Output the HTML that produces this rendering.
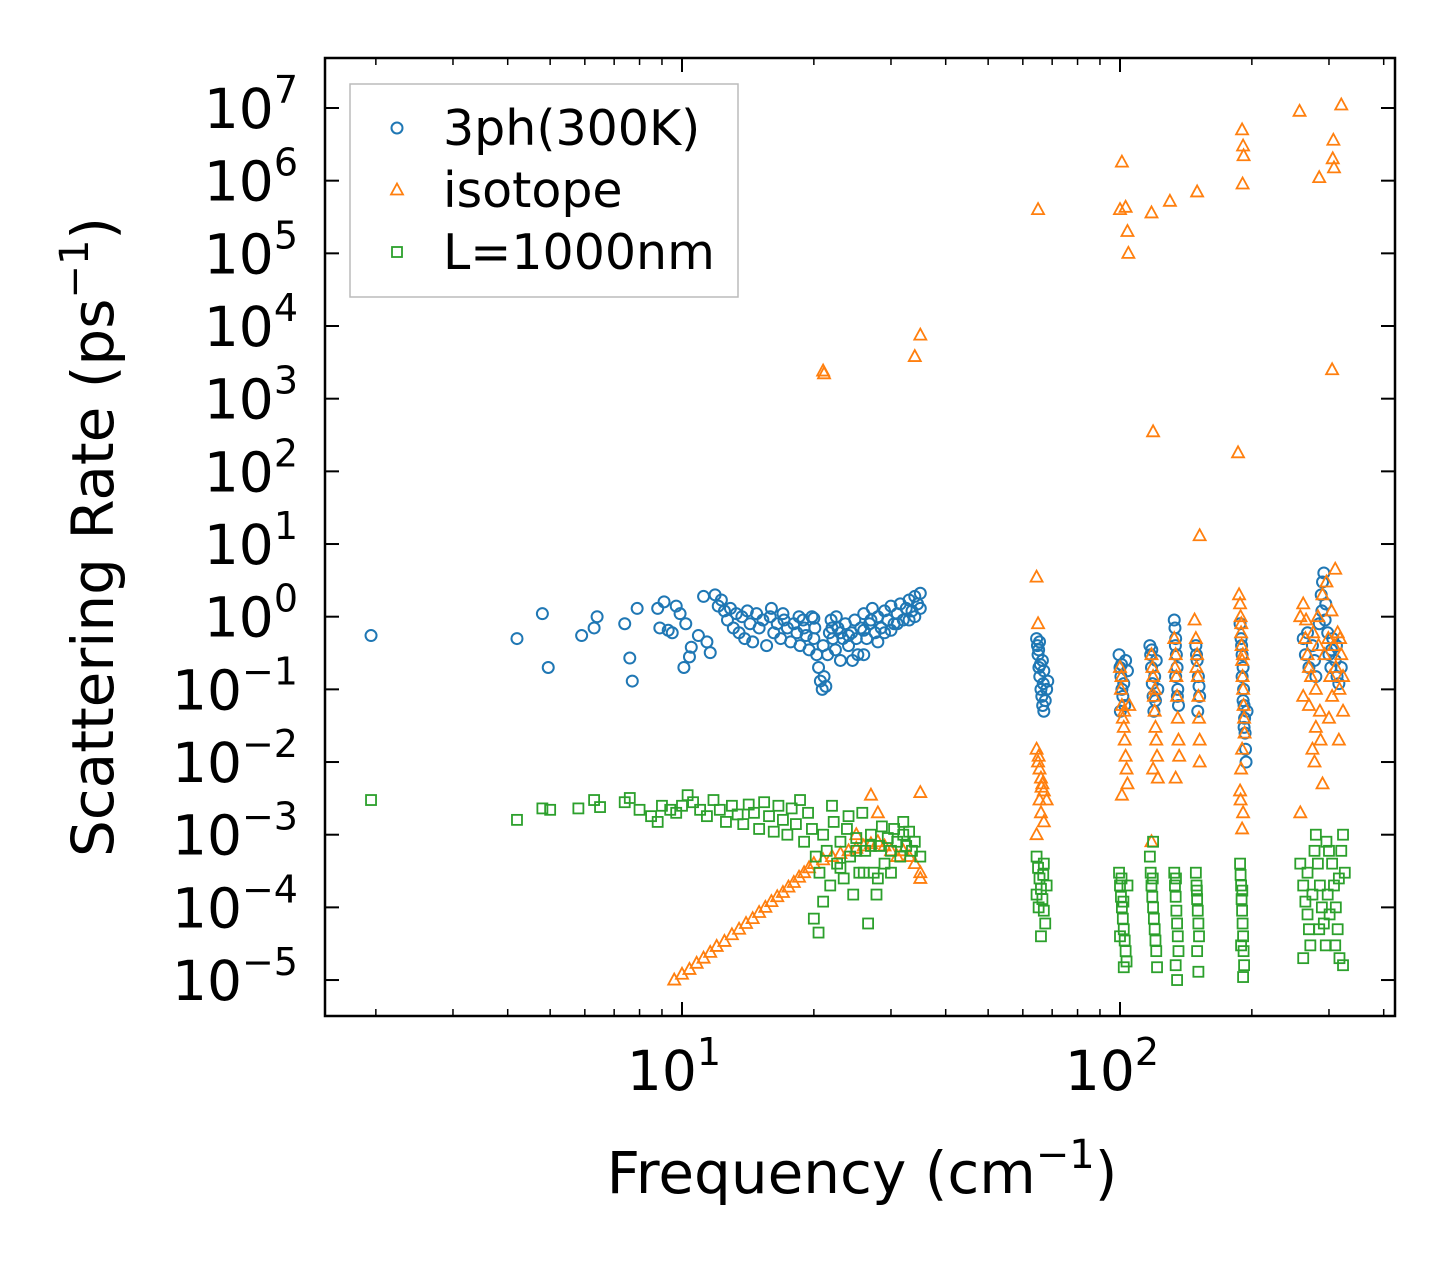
<!DOCTYPE html>
<html><head><meta charset="utf-8"><style>
html,body{margin:0;padding:0;background:#fff;}
svg{display:block;font-family:"DejaVu Sans","Liberation Sans",sans-serif;}
</style></head><body>
<svg id="chart" width="1455" height="1265" viewBox="0 0 1455 1265" xmlns="http://www.w3.org/2000/svg">
<rect x="0" y="0" width="1455" height="1265" fill="#fff"/>
<g id="marks"></g>
<g id="axes"></g>
</svg>
<script>
const bluePoints=[[1.95,.55],[4.2,.5],[4.8,1.1],[4.95,.2],[5.9,.55],[6.3,.7],[6.4,1.0],[7.4,.8],[7.6,.27],[7.7,.13],[7.9,1.3],[8.8,1.3],[8.9,.7],[9.1,1.6],[9.3,.65],[9.5,.6],[9.7,1.4],[9.9,1.1],[10.1,.2],[10.2,.8],[10.4,.28],[10.5,.38],[10.9,.55],[11.2,1.9],[11.4,.45],[11.6,.32],[11.9,2.0],[12.1,1.4],[12.3,1.7],[12.5,1.2],[12.7,.9],[12.9,1.3],[13.1,.7],[13.3,1.1],[13.5,.6],[13.7,1.0],[13.9,.5],[14.1,1.2],[14.3,.8],[14.5,.45],[14.8,1.1],[15,.7],[15.3,.9],[15.6,.4],[15.9,1.0],[16.2,.6],[16.5,.8],[16.8,.5],[17.1,.9],[17.4,.7],[17.7,.45],[18,.8],[18.3,.6],[18.6,.4],[18.9,.9],[19.2,.55],[19.5,.35],[19.8,1.0],[20.1,.7],[20.3,.3],[20.5,.2],[20.7,.13],[20.9,.1],[21.1,.15],[21.3,.11],[21.5,.3],[21.7,.6],[21.9,.9],[22.1,.5],[22.4,.35],[22.7,.7],[23,.25],[23.3,.5],[23.6,.8],[24,.4],[24.4,.6],[24.8,.9],[25.2,.3],[25.6,.7],[26,1.1],[26.4,.5],[26.8,.8],[27.2,1.3],[27.6,.6],[28,1.0],[28.5,.7],[29,1.2],[29.5,.9],[30,1.4],[30.5,.8],[31,1.1],[31.5,1.5],[32,.9],[32.5,1.3],[33,1.7],[33.5,1.2],[34,1.9],[34.5,1.5],[35,2.1],[16,1.3],[17,1.1],[18.5,1.0],[19,.7],[20,.5],[21,.4],[22,.7],[23,.6],[24,.55],[25,.5],[26,.65],[27,.9],[28,.45],[29,.6],[30,.65],[31,.8],[33,.9],[34,1.0],[35,1.3],[22.5,1.0],[20,.95],[24.5,.25],[26,.3],
[64.5,.5],[64.8,.4],[65,.3],[65.3,.2],[65.6,.15],[66,.1],[66.3,.08],[66.6,.06],[67,.05],[67.5,.07],[68,.1],[68.4,.13],[65.5,.45],[66.5,.25],[67,.18],[65.2,.35],[66.8,.12],[65.8,.22],
[99.5,.3],[100,.2],[100.5,.15],[101,.1],[101.5,.08],[102,.12],[103,.25],[100.2,.05],[104,.18],[100.8,.22],[102.5,.06],
[117,.4],[117.5,.3],[118,.2],[118.5,.12],[119,.08],[119.5,.05],[120,.15],[121,.25],[122,.1],[118.2,.35],[120.5,.07],
[133,.9],[133.5,.7],[134,.5],[134.5,.3],[135,.2],[135.5,.1],[136,.06],[134,.15],[133.8,.4],[135.2,.08],
[149,.4],[150,.25],[151,.15],[152,.08],[150.5,.05],[149.5,.3],[151.5,.11],
[188,.8],[189,.5],[190,.3],[191,.2],[191.5,.1],[192,.06],[192.5,.04],[193,.025],[193.5,.015],[194,.01],[190,.15],[195,.05],[189.5,.4],[191,.07],[192,.03],
[262,.5],[265,.3],[270,.2],[275,.4],[280,.15],[285,.8],[288,2],[290,3],[292,4],[295,1.5],[298,.6],[300,.3],[303,.2],[306,.5],[310,.25],[313,.15],[316,.12],[320,.2],[268,.6],[278,.25],[289,1.2],[294,.9],[304,.35],[312,.4]];
const orangePoints=[[21,2400],[21.1,2200],[34,3800],[35,7500],[65,4e5],[100,4e5],[101,1.8e6],[103,4.3e5],[104,2e5],[104.5,1e5],[118,3.6e5],[119,350],[130,5.2e5],[150,7e5],[152,13],[186,180],[190,5e6],[191,3e6],[191.5,2.2e6],[190.5,9e5],[257,9e6],[285,1.1e6],[307,3.6e6],[306,2e6],[308,1.5e6],[305,2500],[320,1.1e7],[310,4.5],
[9.6,1e-5],[10,1.2e-5],[10.4,1.4e-5],[10.8,1.7e-5],[11.2,2e-5],[11.6,2.4e-5],[12,2.9e-5],[12.5,3.4e-5],[13,4.2e-5],[13.5,5e-5],[14,6e-5],[14.5,7e-5],[15,8.5e-5],[15.5,1e-4],[16,1.2e-4],[16.5,1.4e-4],[17,1.6e-4],[17.5,1.9e-4],[18,2.2e-4],[18.5,2.6e-4],[19,3e-4],[19.5,3.5e-4],[20,4e-4],[21,4.5e-4],[22,5e-4],[23,5.5e-4],[24,6e-4],[25,6.5e-4],[26,7e-4],[27,7.5e-4],[28,8e-4],[29,7e-4],[30,6e-4],[31,5e-4],[32,6e-4],[33,5e-4],[34,4e-4],[35,3e-4],[35,2.5e-4],[27,3.5e-3],[35,3.8e-3],[28,2e-3],[25,1e-3],
[64.5,3.5],[65,.8],[64.5,.015],[65,.01],[65.5,.008],[66,.006],[66.5,.005],[67,.004],[65.5,.003],[66,.002],[67,.0015],[64.5,.001],[68,.003],[65.2,.012],[66.2,.0045],
[100,.2],[100.5,.1],[101,.06],[101.5,.04],[102,.03],[102.5,.02],[103,.012],[103.5,.008],[104,.005],[101,.0035],[105,.06],[100.8,.15],[102.2,.05],
[118,.3],[119,.15],[119.5,.08],[120,.05],[120.5,.03],[121,.02],[121.5,.012],[119,.008],[122,.006],[118,8e-4],[118.6,.2],[120.2,.1],
[133,.5],[134,.3],[134.5,.15],[135,.08],[135.5,.04],[136,.02],[136.5,.012],[134,.006],[133.5,.2],
[148,.9],[149,.5],[150,.3],[150.5,.15],[151,.08],[151.5,.04],[152,.02],[152,.01],[149.5,.2],
[187,2],[188,1.5],[188.5,1],[189,.6],[189.5,.4],[190,.25],[190.5,.15],[191,.1],[191.5,.06],[192,.04],[192.5,.025],[190,.015],[189,.008],[188,.004],[191,.002],[190,.0012],[188.5,.003],[189.2,.8],[190.8,.3],
[258,1],[262,1.5],[265,.5],[268,.3],[270,.2],[273,.15],[276,.6],[280,.1],[283,1],[286,.05],[290,2],[293,.3],[296,3],[299,.5],[302,.15],[305,.08],[308,.4],[311,.2],[314,.6],[317,.1],[320,.3],[323,.15],[262,.08],[270,.06],[275,.015],[280,.03],[287,.02],[300,.04],[316,.02],[323,.05],[258,.002],[290,.005],[278,.01],[266,.9],[284,.4],[304,1.2],[318,.5]];
const greenPoints=[[1.95,3e-3],[4.2,1.6e-3],[4.8,2.3e-3],[5,2.2e-3],[5.8,2.3e-3],[6.3,3e-3],[6.5,2.4e-3],[7.4,2.8e-3],[7.6,3.2e-3],[8,2.2e-3],[8.5,1.8e-3],[8.8,1.5e-3],[9,2.5e-3],[9.4,2.2e-3],[9.7,2e-3],[10,2.5e-3],[10.3,3.5e-3],[10.6,2.8e-3],[11,2.2e-3],[11.4,1.8e-3],[11.8,3e-3],[12.2,2.2e-3],[12.6,1.5e-3],[13,2.5e-3],[13.4,1.9e-3],[13.8,1.4e-3],[14.2,2.6e-3],[14.6,2e-3],[15,1.2e-3],[15.4,2.8e-3],[15.8,1.8e-3],[16.2,1.1e-3],[16.6,2.5e-3],[17,1.6e-3],[17.4,1e-3],[17.8,2.3e-3],[18.2,1.4e-3],[18.6,3e-3],[19,8e-4],[19.4,2e-3],[19.8,1.2e-3],[20,7e-5],[20.5,4.5e-5],[20.2,5e-4],[20.6,3e-4],[21,1e-3],[21.4,6e-4],[21.8,2e-4],[22.2,1.5e-3],[22.6,4e-4],[23,8e-4],[23.4,2.5e-4],[23.8,1.2e-3],[24.2,5e-4],[24.6,1.5e-4],[25,9e-4],[25.4,3e-4],[25.8,2e-3],[26.2,6e-4],[26.6,6e-5],[27,1e-3],[27.4,3e-4],[27.8,1.5e-4],[28.2,7e-4],[28.6,1.3e-3],[29,4e-4],[29.5,9e-4],[30,6e-4],[30.5,1.2e-3],[31,8e-4],[31.5,5e-4],[32,1e-3],[32.5,7e-4],[33,1.1e-3],[33.5,6e-4],[34,8e-4],[35,5e-4],[21,1.2e-4],[22,2.5e-3],[23,3.5e-4],[24,1.8e-3],[26,3e-4],[28,2.5e-4],[30,3e-4],[32,1.5e-3],[25,6e-4],[27,7e-4],
[64.5,5e-4],[65,3.5e-4],[65.5,2.5e-4],[66,1.8e-4],[66.5,1.3e-4],[67,9e-5],[67.5,6e-5],[66,4e-5],[68,2e-4],[64.5,1.5e-4],[67,4e-4],[65.2,1e-4],[66.8,2.8e-4],
[99.5,3e-4],[100,2e-4],[100.5,1.4e-4],[101,1e-4],[101.5,7e-5],[102,5e-5],[102.5,3.5e-5],[103,2.5e-5],[103.5,1.8e-5],[102,1.5e-5],[104,2e-4],[100,4e-5],[100.8,2.5e-4],[101.8,1.2e-4],
[117,5e-4],[117.5,3e-4],[118,2e-4],[118.5,1.4e-4],[119,1e-4],[119.5,7e-5],[120,5e-5],[120.5,3.5e-5],[121,2.5e-5],[121.5,1.5e-5],[119,8e-4],[118.8,2.5e-4],
[133,3e-4],[133.5,2e-4],[134,1.4e-4],[134.5,9e-5],[135,6e-5],[135.5,4e-5],[136,2.5e-5],[134,1.6e-5],[135,1e-5],[134.2,2.5e-4],
[149,3e-4],[149.5,2e-4],[150,1.3e-4],[150.5,9e-5],[151,6e-5],[151.5,4e-5],[150,2.5e-5],[151,1.3e-5],[149.8,1.7e-4],
[188,4e-4],[188.5,2.8e-4],[189,2e-4],[189.5,1.3e-4],[190,9e-5],[190.5,6e-5],[191,4e-5],[191.5,2.5e-5],[192,1.6e-5],[191,1.1e-5],[189,3e-5],[190.2,1.7e-4],
[258,4e-4],[262,2e-4],[265,1.2e-4],[268,8e-5],[270,5e-5],[272,3e-5],[275,1.5e-4],[278,6e-4],[280,1e-3],[283,4e-4],[286,2e-4],[289,1e-4],[292,6e-5],[295,3e-5],[298,1.5e-4],[301,8e-5],[305,4e-4],[308,2e-4],[311,1e-4],[314,5e-5],[317,2e-5],[320,6e-4],[323,1e-3],[326,3e-4],[323,1.6e-5],[262,2e-5],[285,5e-5],[310,3e-5],[300,6e-4],[268,3e-4],[296,8e-4],[316,2.5e-4]];
const yTickExps=[-5,-4,-3,-2,-1,0,1,2,3,4,5,6,7];
const xTickExps=[1,2];
const seriesNames=["3ph(300K)","isotope","L=1000nm"];

const NS="http://www.w3.org/2000/svg";
const L=325,R=1395,T=58,B=1016;
const xDec=438,x10=682,yDec=72.67,y7=108;
function xs(f){return x10+(Math.log10(f)-1)*xDec;}
function ys(v){return y7+(7-Math.log10(v))*yDec;}
function mk(tag,attrs,parent){const e=document.createElementNS(NS,tag);for(const k in attrs)e.setAttribute(k,attrs[k]);parent.appendChild(e);return e;}
const marks=document.getElementById('marks');
const axes=document.getElementById('axes');
mk('clipPath',{id:'clip'},marks);
mk('rect',{x:L,y:T,width:R-L,height:B-T},document.getElementById('clip'));
const colors=["#1f77b4","#ff7f0e","#2ca02c"];
function marker(kind,cx,cy,color,parent){
  let e;
  if(kind===0){e=mk('circle',{cx:cx,cy:cy,r:5.5,fill:'none',stroke:color,'stroke-width':2},parent);}
  else if(kind===1){e=mk('polygon',{points:`${cx},${cy-6.5} ${cx+6},${cy+4.5} ${cx-6},${cy+4.5}`,fill:'none',stroke:color,'stroke-width':1.8},parent);}
  else {e=mk('rect',{x:cx-5,y:cy-5,width:10,height:10,fill:'none',stroke:color,'stroke-width':1.8},parent);}
  return e;
}
[bluePoints,orangePoints,greenPoints].forEach((pts,si)=>{
  const g=mk('g',{'clip-path':'url(#clip)'},marks);
  
  
  pts.forEach(p=>{
    const m=marker(si,xs(p[0]),ys(p[1]),colors[si],g);
    
    
  });
});
const frame=mk('rect',{x:L,y:T,width:R-L,height:B-T,fill:'none',stroke:'#000','stroke-width':2.5},axes);


yTickExps.forEach(e=>{
  const y=ys(Math.pow(10,e));
  mk('line',{x1:L,x2:L+14,y1:y,y2:y,stroke:'#000','stroke-width':2},axes);
  mk('line',{x1:R,x2:R-14,y1:y,y2:y,stroke:'#000','stroke-width':2},axes);
  const t=mk('text',{x:298,y:y+20,'text-anchor':'end','font-size':55,fill:'#000'},axes);
  
  
  const s1=document.createElementNS(NS,'tspan');s1.textContent='10';t.appendChild(s1);
  const s2=document.createElementNS(NS,'tspan');s2.setAttribute('font-size','38');s2.setAttribute('dy','-25');
  s2.textContent=(e<0?'\u2212'+(-e):String(e));t.appendChild(s2);
});
for(let d=0;d<=2;d++){for(let m=1;m<=9;m++){
  const f=m*Math.pow(10,d);const x=xs(f);
  if(x<L||x>R)continue;
  const len=(m===1)?14:7;
  mk('line',{x1:x,x2:x,y1:B,y2:B-len,stroke:'#000','stroke-width':(m===1)?2:1.5},axes);
  mk('line',{x1:x,x2:x,y1:T,y2:T+len,stroke:'#000','stroke-width':(m===1)?2:1.5},axes);
}}
xTickExps.forEach(e=>{
  const x=xs(Math.pow(10,e));
  const t=mk('text',{x:x-8,y:1090,'text-anchor':'middle','font-size':55,fill:'#000'},axes);
  
  
  const s1=document.createElementNS(NS,'tspan');s1.textContent='10';t.appendChild(s1);
  const s2=document.createElementNS(NS,'tspan');s2.setAttribute('font-size','38');s2.setAttribute('dy','-25');s2.textContent=String(e);t.appendChild(s2);
});
const xt=mk('text',{x:862,y:1193,'text-anchor':'middle','font-size':58,fill:'#000'},axes);


xt.innerHTML='Frequency (cm<tspan font-size="40" dy="-25">\u22121</tspan><tspan dy="25">)</tspan>';
const yt=mk('text',{x:0,y:0,'text-anchor':'middle','font-size':58,fill:'#000',transform:'translate(113,537) rotate(-90)'},axes);


yt.innerHTML='Scattering Rate (ps<tspan font-size="40" dy="-25">\u22121</tspan><tspan dy="25">)</tspan>';
const lg=mk('g',{},axes);


mk('rect',{x:350,y:84,width:388,height:213,fill:'#fff','fill-opacity':0.8,stroke:'#bbb','stroke-width':1.5},lg);
seriesNames.forEach((n,i)=>{
  const y=128+i*62;
  const ent=mk('g',{},lg);
  
  
  marker(i,397,y,colors[i],ent);
  const t=mk('text',{x:443,y:y+17,'font-size':49,fill:'#000'},ent);
  t.textContent=n;
});
</script>
</body></html>
